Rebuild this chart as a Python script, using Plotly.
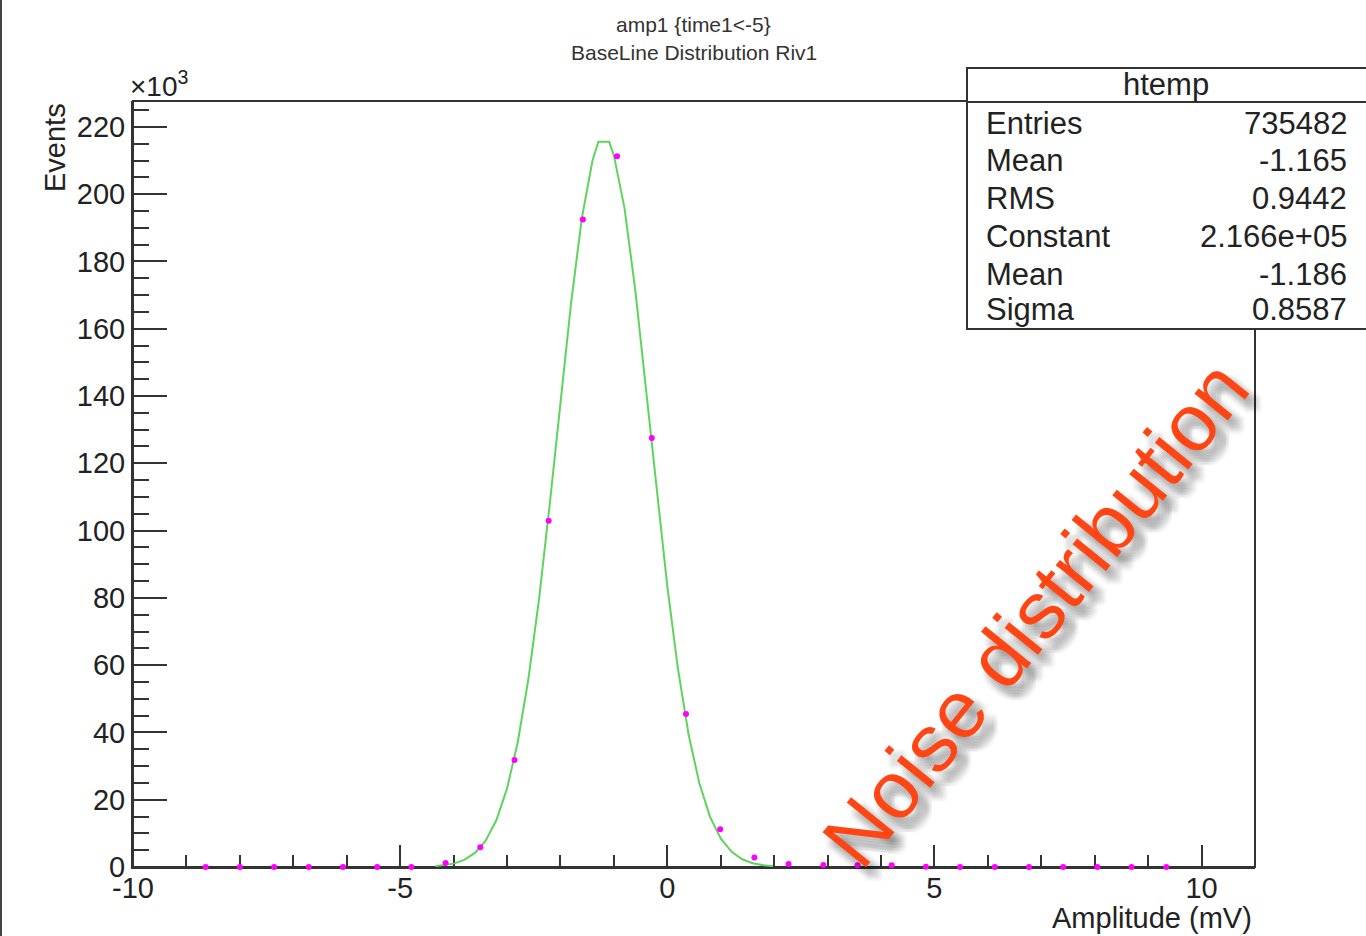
import plotly.graph_objects as go

# ---- data (y in units of 10^3 events) ----
bin_x = [-8.64, -8.00, -7.36, -6.71, -6.07, -5.43, -4.79, -4.15, -3.50, -2.86,
         -2.22, -1.58, -0.94, -0.29, 0.35, 0.99, 1.63, 2.27, 2.92, 3.56,
         4.20, 4.84, 5.48, 6.13, 6.77, 7.41, 8.05, 8.69, 9.34]
bin_y = [0, 0, 0, 0, 0, 0, 0, 1.2, 5.9, 31.8,
         102.9, 192.5, 211.3, 127.5, 45.5, 11.2, 2.8, 0.9, 0.6, 0.5,
         0.5, 0.1, 0, 0, 0, 0, 0, 0, 0]

fit_x = [-4.34, -4.0, -3.8, -3.6, -3.4, -3.2, -3.0, -2.8, -2.6, -2.4, -2.2, -2.0,
         -1.8, -1.6, -1.4, -1.29, -1.09, -1.0, -0.8, -0.6, -0.4, -0.2, 0.0, 0.2, 0.4,
         0.6, 0.8, 1.0, 1.2, 1.4, 1.6, 1.8, 1.98]
fit_y = [0.26, 1.0, 2.1, 4.2, 7.8, 13.9, 23.3, 37.0, 55.8, 79.7, 107.9, 138.2,
         167.7, 192.8, 210.0, 215.6, 215.6, 211.6, 195.8, 171.6, 142.5, 112.0, 83.5, 58.9, 39.3,
         24.9, 14.9, 8.5, 4.6, 2.3, 1.1, 0.5, 0.24]

x_tickvals = [-10, -5, 0, 5, 10]
x_ticktext = ["-10", "-5", "0", "5", "10"]

stat_labels = ["Entries", "Mean", "RMS", "Constant", "Mean", "Sigma"]
stat_values = ["735482", "-1.165", "0.9442", "2.166e+05", "-1.186", "0.8587"]

x_range = [-10, 11]
y_range = [0, 227.7]

# ---- layout geometry (pixels) ----
W, H = 1366, 936
L, R, T, B = 133, 1255, 101, 867

def px(x):
    return (x - L) / (R - L)

def py(y):
    return (B - y) / (B - T)

FONT = "Liberation Sans, Arial, Helvetica, sans-serif"
AX = "#333333"

fig = go.Figure()
fig.add_trace(go.Scatter(x=fit_x, y=fit_y, mode="lines",
                         line=dict(color="#5fd35f", width=2), hoverinfo="skip"))
fig.add_trace(go.Scatter(x=bin_x, y=bin_y, mode="markers", cliponaxis=False,
                         marker=dict(symbol="circle", size=6, color="#ff00ff",
                                     line=dict(width=0))))

fig.update_layout(
    width=W, height=H, showlegend=False,
    paper_bgcolor="white", plot_bgcolor="white",
    margin=dict(l=L, r=W - R, t=T, b=H - B, pad=0),
    font=dict(family=FONT, color="#222222"),
)
fig.update_xaxes(range=x_range, showgrid=False, zeroline=False,
                 showline=True, linecolor=AX, linewidth=2,
                 ticks="inside", ticklen=22, tickwidth=2, tickcolor=AX,
                 tickmode="array", tickvals=x_tickvals, ticktext=x_ticktext,
                 tickfont=dict(size=29, family=FONT),
                 ticklabelstandoff=-6,
                 minor=dict(ticks="inside", ticklen=12, tickwidth=2, tickcolor=AX,
                            tick0=0, dtick=1),
                 layer="below traces")
fig.update_yaxes(range=y_range, showgrid=False, zeroline=False,
                 showline=True, linecolor=AX, linewidth=2,
                 ticks="inside", ticklen=34, tickwidth=2, tickcolor=AX,
                 tick0=0, dtick=20, tickfont=dict(size=29, family=FONT),
                 minor=dict(ticks="inside", ticklen=16, tickwidth=2, tickcolor=AX, dtick=5),
                 layer="below traces")

shapes = []
# plot frame
shapes.append(dict(type="rect", xref="paper", yref="paper", x0=0, x1=1, y0=0, y1=1,
                   line=dict(color=AX, width=2), layer="below"))
# stats box
shapes.append(dict(type="rect", xref="paper", yref="paper",
                   x0=px(967), x1=px(1372), y0=py(329), y1=py(68),
                   line=dict(color=AX, width=2), fillcolor="white", layer="above"))
shapes.append(dict(type="line", xref="paper", yref="paper",
                   x0=px(967), x1=px(1372), y0=py(102), y1=py(102),
                   line=dict(color=AX, width=2), layer="above"))
# screenshot left border
shapes.append(dict(type="line", xref="paper", yref="paper",
                   x0=px(1), x1=px(1), y0=py(0), y1=py(936),
                   line=dict(color="#444444", width=2), layer="above"))
fig.update_layout(shapes=shapes)

ann = []
def text(s, x, y, size, xanchor="center", color="#222222", angle=0):
    ann.append(dict(text=s, xref="paper", yref="paper", x=px(x), y=py(y),
                    xanchor=xanchor, yanchor="middle", showarrow=False,
                    textangle=angle,
                    font=dict(family=FONT, size=size, color=color)))

text("amp1 {time1&lt;-5}", 693, 24, 21, color="#333333")
text("BaseLine Distribution Riv1", 694, 52, 21, color="#333333")
text("×10<sup>3</sup>", 128, 84, 28, xanchor="left")
text("Events", 55, 148, 29, angle=-90)
text("Amplitude (mV)", 1254, 918, 29, xanchor="right")

text("htemp", 1166, 85, 31)
row_y = [123, 161, 198, 236, 274, 309]
for lab, val, yy in zip(stat_labels, stat_values, row_y):
    text(lab, 984, yy, 31, xanchor="left")
    text(val, 1349, yy, 31, xanchor="right")

# soft shadow for the hand-written label
NX, NY = 1035, 614
offs = [(dx, dy) for dx in (2, 5, 8, 11, 14) for dy in (3, 6, 9, 12, 15)]
for dx, dy in offs:
    text("Noise distribution", NX + dx, NY + dy, 81, color="rgba(0,0,0,0.025)", angle=-51)
text("Noise distribution", NX, NY, 81, color="#ff4514", angle=-51)

fig.update_layout(annotations=ann)
fig.write_html("out.html", config={"displayModeBar": False},
               post_script="document.body.style.margin='0';document.body.style.overflow='hidden';")
